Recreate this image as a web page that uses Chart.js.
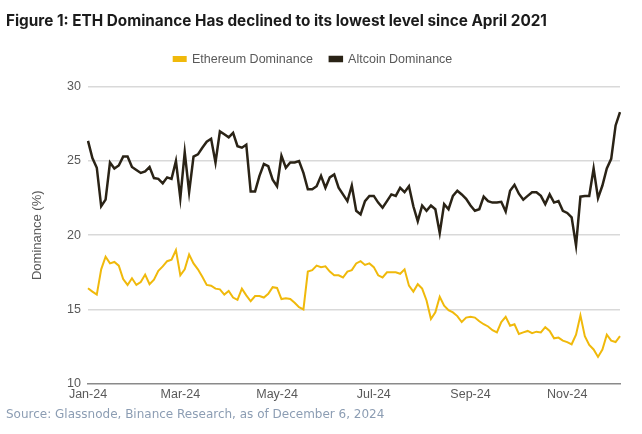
<!DOCTYPE html>
<html>
<head>
<meta charset="utf-8">
<script src="https://cdn.jsdelivr.net/npm/chart.js@4.4.1/dist/chart.umd.min.js"></script>
<style>
  html, body { margin: 0; padding: 0; background: #ffffff; }
  #wrap { position: relative; width: 642px; height: 434px; }
</style>
</head>
<body>
<div id="wrap"><canvas id="chart"></canvas></div>
<script>
// Values, one sample every ~2.8 days (Jan 1 -> Dec 6, 2024)
const altcoinDominance = [
  26.36, 25.2, 24.55, 21.95, 22.4, 24.9, 24.5, 24.7, 25.3, 25.3,
  24.6, 24.4, 24.2, 24.3, 24.6, 23.85, 23.8, 23.5, 23.9, 23.8,
  25.0, 22.5, 25.6, 22.9, 25.3, 25.45, 25.9, 26.3, 26.5, 24.9,
  27.0, 26.8, 26.6, 26.9, 26.0, 25.9, 26.1, 22.95, 22.95, 24.0,
  24.8, 24.65, 23.75, 23.3, 25.35, 24.55, 24.9, 24.9, 25.0, 24.2,
  23.1, 23.1, 23.3, 24.0, 23.2, 23.9, 24.1, 23.2, 22.75, 22.3,
  23.35, 21.65, 21.4, 22.3, 22.65, 22.65, 22.2, 21.85, 22.3, 22.75,
  22.65, 23.2, 22.9, 23.3, 21.95, 20.95, 22.0, 21.65, 22.0, 21.75,
  20.15, 22.1, 21.75, 22.65, 23.0, 22.75, 22.45, 22.0, 21.65, 21.75,
  22.6, 22.3, 22.2, 22.2, 22.25, 21.6, 23.0, 23.4, 22.8, 22.4,
  22.65, 22.9, 22.9, 22.65, 22.1, 22.75, 22.2, 22.3, 21.65, 21.5,
  21.2, 19.3, 22.6, 22.65, 22.65, 24.5, 22.5, 23.35, 24.5, 25.15,
  27.4, 28.3
];

const ethereumDominance = [
  16.43, 16.2, 16.0, 17.7, 18.55, 18.1, 18.2, 17.95, 17.05, 16.65,
  17.1, 16.65, 16.85, 17.35, 16.7, 17.0, 17.6, 17.9, 18.25, 18.35,
  19.0, 17.3, 17.7, 18.7, 18.1, 17.7, 17.2, 16.65, 16.6, 16.4,
  16.35, 16.0, 16.25, 15.8, 15.65, 16.4, 15.95, 15.55, 15.9, 15.9,
  15.8, 16.05, 16.5, 16.45, 15.7, 15.75, 15.7, 15.45, 15.15, 15.0,
  17.55, 17.65, 17.95, 17.85, 17.9, 17.55, 17.3, 17.3, 17.15, 17.55,
  17.65, 18.1, 18.25, 18.0, 18.1, 17.85, 17.3, 17.15, 17.5, 17.5,
  17.5, 17.4, 17.7, 16.6, 16.2, 16.7, 16.4, 15.6, 14.35, 14.8,
  15.85, 15.25, 14.95, 14.8, 14.55, 14.15, 14.45, 14.5, 14.45, 14.2,
  14.0, 13.85, 13.6, 13.45, 14.15, 14.5, 13.9, 14.0, 13.35, 13.45,
  13.55, 13.4, 13.5, 13.45, 13.8, 13.55, 13.05, 13.1, 12.9, 12.8,
  12.65, 13.3, 14.6, 13.2, 12.6, 12.3, 11.8, 12.3, 13.3, 12.9,
  12.8, 13.2
];

// x tick labels and the sample they sit on
const tickLabels = ['Jan-24', 'Mar-24', 'May-24', 'Jul-24', 'Sep-24', 'Nov-24'];
const tickAt = [0, 21, 43, 65, 87, 109];

const labels = altcoinDominance.map(() => '');
tickAt.forEach((idx, i) => { labels[idx] = tickLabels[i]; });

const ETH_COLOR = '#f0b90b';
const ALT_COLOR = '#2a2316';
const AXIS_TEXT = '#595959';

// Extra room between the legend and the plot
const legendGap = {
    id: 'legendGap',
    beforeInit(chart) {
        const origFit = chart.legend.fit;
        chart.legend.fit = function () {
            origFit.bind(chart.legend)();
            this.height += 11.5;
        };
    }
};

new Chart(document.getElementById('chart'), {
    type: 'line',
    data: {
        labels: labels,
        datasets: [
            {
                label: 'Ethereum Dominance',
                data: ethereumDominance,
                borderColor: ETH_COLOR,
                backgroundColor: ETH_COLOR,
                borderWidth: 2,
                pointRadius: 0,
                tension: 0
            },
            {
                label: 'Altcoin Dominance',
                data: altcoinDominance,
                borderColor: ALT_COLOR,
                backgroundColor: ALT_COLOR,
                borderWidth: 2.5,
                pointRadius: 0,
                tension: 0
            }
        ]
    },
    plugins: [legendGap],
    options: {
        responsive: true,
        maintainAspectRatio: false,
        animation: false,
        layout: { padding: { left: 6, right: 22, top: 0, bottom: 0 } },
        plugins: {
            title: {
                display: true,
                text: 'Figure 1: ETH Dominance Has declined to its lowest level since April 2021',
                align: 'start',
                color: '#1b1b1b',
                font: { family: 'Inter', size: 15.3, weight: '700' },
                padding: { top: 12.5, bottom: 5 }
            },
            subtitle: {
                display: true,
                position: 'bottom',
                text: 'Source: Glassnode, Binance Research, as of December 6, 2024',
                align: 'start',
                color: '#8c9db3',
                font: { family: 'DejaVu Sans', size: 12 },
                padding: { top: 2.5, bottom: 11.5 }
            },
            legend: {
                position: 'top',
                labels: {
                    boxWidth: 12,
                    boxHeight: 4,
                    padding: 17,
                    color: AXIS_TEXT,
                    font: { family: 'Liberation Sans', size: 12.5 }
                }
            },
            tooltip: { enabled: false }
        },
        scales: {
            x: {
                offset: false,
                grid: { display: false, drawTicks: false },
                border: { display: true, color: '#8a8a8a', width: 1.5 },
                ticks: {
                    autoSkip: false,
                    maxRotation: 0,
                    padding: 3.5,
                    color: AXIS_TEXT,
                    font: { family: 'Liberation Sans', size: 12.5 }
                }
            },
            y: {
                min: 10,
                max: 30,
                afterFit: (scale) => { scale.width = 82; },
                border: { display: false },
                grid: {
                    drawTicks: false,
                    lineWidth: 1.5,
                    color: (ctx) => ctx.tick && ctx.tick.value === 10 ? 'rgba(0,0,0,0)' : '#d9d9d9'
                },
                ticks: {
                    stepSize: 5,
                    padding: 7,
                    color: AXIS_TEXT,
                    font: { family: 'Liberation Sans', size: 12.5 }
                },
                title: {
                    display: true,
                    text: 'Dominance (%)',
                    color: AXIS_TEXT,
                    font: { family: 'Liberation Sans', size: 13 },
                    padding: { top: 24, bottom: 0 }
                }
            }
        }
    }
});
</script>
</body>
</html>
